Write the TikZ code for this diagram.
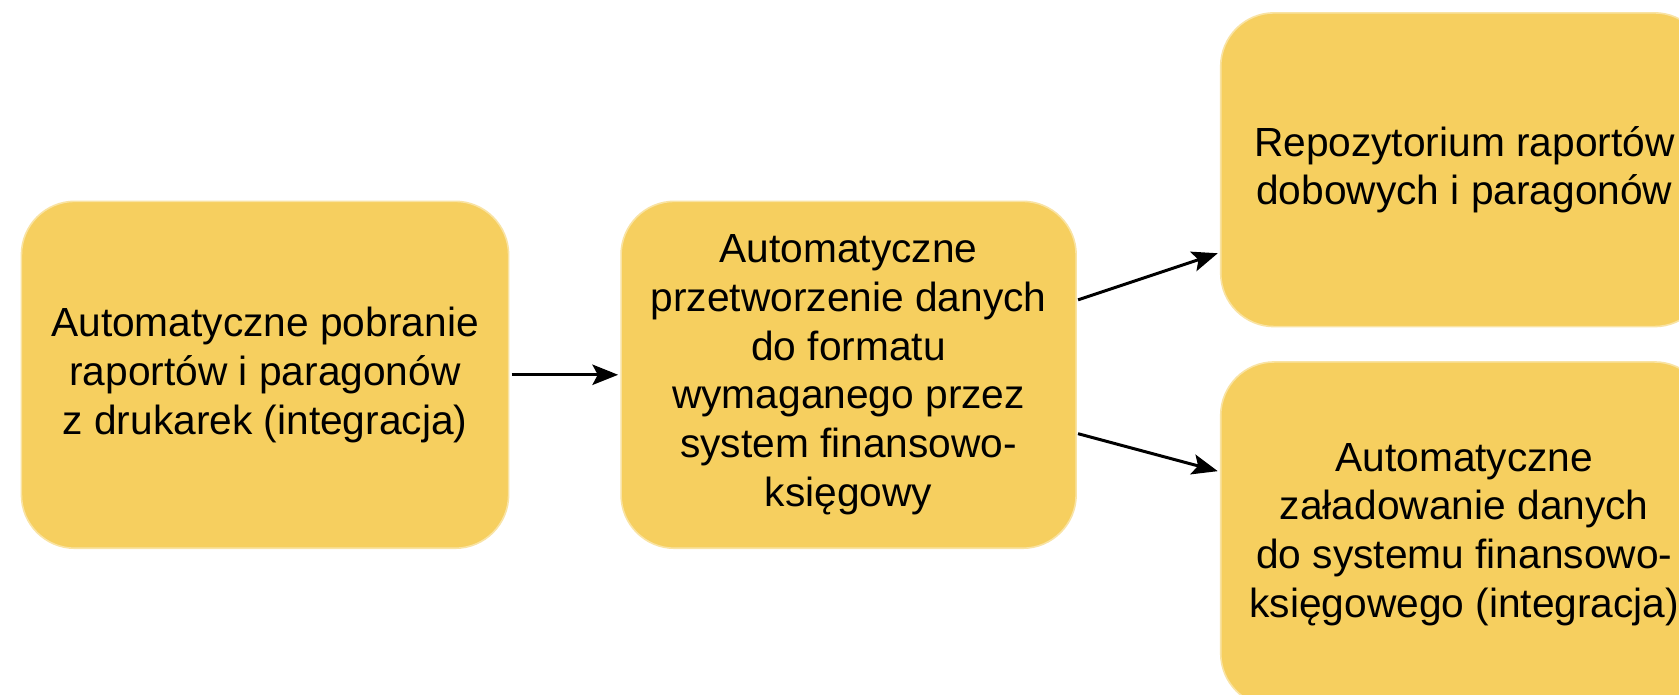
\documentclass[tikz,border=0pt]{standalone}
\usepackage{fontspec}
\setmainfont{Liberation Sans}
\usetikzlibrary{arrows.meta}
\definecolor{boxfill}{HTML}{F6CF5F}
\definecolor{boxline}{HTML}{F9E3A3}
\tikzset{
  flowbox/.style={rectangle, rounded corners=50pt, fill=boxfill, draw=boxline, line width=1.5pt,
    align=center, inner sep=0pt, font=\fontsize{38}{45.5}\selectfont},
  flowarrow/.style={line width=2.8pt, -{Stealth[length=24pt,width=19pt,inset=5pt]}}
}
\begin{document}
\begin{tikzpicture}[x=1pt,y=-1pt]
\clip (0,0) rectangle (1568,649);
\fill[white] (0,0) rectangle (1568,649);
\node[flowbox, minimum width=455pt, minimum height=324pt] (b1) at (247.5,350)
  {Automatyczne pobranie\\raportów i paragonów\\z drukarek (integracja)};
\node[flowbox, minimum width=425pt, minimum height=324pt] (b2) at (792.5,350)
  {Automatyczne\\przetworzenie danych\\do formatu\\wymaganego przez\\system finansowo-\\księgowy};
\node[flowbox, minimum width=455pt, minimum height=293pt] (b3) at (1367.5,158.5)
  {Repozytorium raportów\\dobowych i paragonów};
\node[flowbox, minimum width=455pt, minimum height=322pt] (b4) at (1367.5,499)
  {Automatyczne\\załadowanie danych\\do systemu finansowo-\\księgowego (integracja)};
\draw[flowarrow] ([xshift=2pt]b1.east) -- ([xshift=-2pt]b2.west);
\draw[flowarrow] ([xshift=1pt,yshift=70pt]b2.east) -- ([xshift=-2pt,yshift=-78pt]b3.west);
\draw[flowarrow] ([xshift=1pt,yshift=-55pt]b2.east) -- ([xshift=-2pt,yshift=59pt]b4.west);
\end{tikzpicture}
\end{document}
